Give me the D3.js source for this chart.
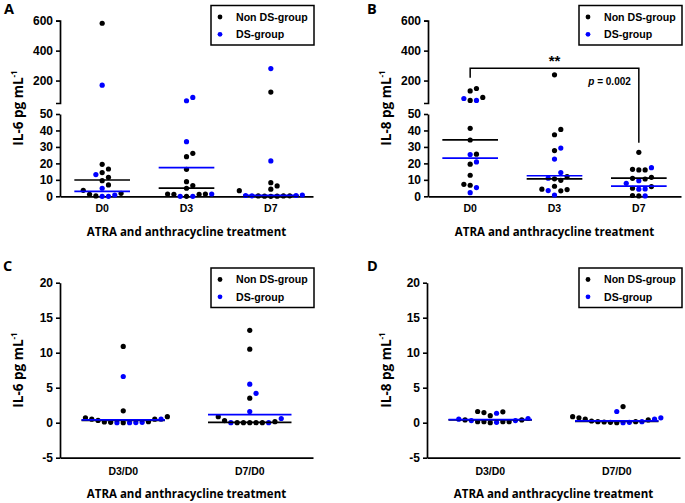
<!DOCTYPE html>
<html><head><meta charset="utf-8">
<script src="https://cdn.jsdelivr.net/npm/d3@7"></script>
<style>body{margin:0;background:#fff} svg{display:block}</style>
</head><body><svg id="c" width="685" height="503"></svg>
<script>
const dayCats = ["D0","D3","D7"];
const ratioCats = ["D3/D0","D7/D0"];
const groups = ["Non DS-group","DS-group"];
const groupColors = ["#000000","#0000ff"];

// Panel A: IL-6 (pg/mL), per category
const il6NonDS = [
  [583,19.4,16.6,14.4,11.5,9.5,6.9,3.6,1.2,0.2,1.8],
  [26.1,24.1,16.4,8.9,6.5,4.9,1.4,1.4,0,1.2,1.2],
  [123,8.3,6.3,4.3,3.4,0.2,0.1,0,0.2,0.3,0.1]
];
const il6DS = [
  [169,13.2,4.9,0,0,0.8],
  [87,65,33.2,0,0,1.4],
  [280,21.5,0.5,0.3,0.5,0.8]
];
const il6NonDSMedian = [9.9,5.0,0.2];
const il6DSMedian = [3.0,17.4,0.6];

// Panel B: IL-8 (pg/mL)
const il8NonDS = [
  [147,131,87,67,41.3,34.2,25.6,19.5,12.8,7.3,6.7],
  [238,40.6,37.4,27.8,12,10.6,9.7,6.1,4.3,3.3,4.1],
  [26.7,16.4,16,16,11.5,10.9,10.5,5.9,4.9,0.5,0.2]
];
const il8DS = [
  [80,67,25.4,20.9,5.3,2.2],
  [29.3,22.6,14.4,11,3.5,0.8],
  [17.4,9.5,7.9,4.5,4.3,0.2]
];
const il8NonDSMedian = [34.3,10.6,11.0];
const il8DSMedian = [23.2,12.5,6.2];

// Panel C: IL-6 ratios
const il6RatioNonDS = [
  [10.9,1.7,0.86,0.5,0.5,0.15,0,0.05,0.1,0.33,0.7],
  [13.2,10.5,3.5,0.86,0.3,0,0,0,0,0,0.14]
];
const il6RatioDS = [
  [6.6,0.05,0,0,0.02,0.5],
  [5.5,4.2,1.6,0,0,0.6]
];
const il6RatioNonDSMedian = [0.33,0.05];
const il6RatioDSMedian = [0.4,1.15];

// Panel D: IL-8 ratios
const il8RatioNonDS = [
  [1.0,0.4,0.15,0.15,0,0.15,0.15,0.4,1.6,1.45,1.55],
  [0.86,0.24,0.15,0.05,0,0.15,0.4,0.5,0.7,2.3,0.1]
];
const il8RatioDS = [
  [0.6,0.3,0.05,0.3,0.5,1.35],
  [0.7,0.5,0,0.05,0.15,1.6]
];
const il8RatioNonDSMedian = [0.4,0.2];
const il8RatioDSMedian = [0.45,0.25];

const brokenUpperTicks = [200,400,600];
const brokenLowerTicks = [0,10,20,30,40,50];
const ratioTicks = [-5,0,5,10,15,20];
const xTitle = "ATRA and anthracycline treatment";
const sigStars = "**";
const pText = "= 0.002";

const svg = d3.select("#c");
const FONT = "'Liberation Sans', Arial, sans-serif";
const TFONT = "'Open Sans', 'Liberation Sans', sans-serif";
const fmt = d => String(d);

function swarm(pts, cx, d) {
  const sorted = pts.slice().sort((a,b) => b.y - a.y || a.g - b.g);
  const placed = [];
  for (const p of sorted) {
    let off = 0;
    for (let i = 0; i < 200; i++) {
      const k = Math.ceil(i/2);
      off = i === 0 ? 0 : (i % 2 === 1 ? k : -k) * d;
      if (placed.every(q => Math.hypot(q.dx - off, q.y - p.y) >= d - 0.01)) break;
    }
    placed.push({...p, dx: off});
  }
  return placed.map(p => ({...p, x: cx + p.dx}));
}

function drawPanel(c) {
  const g = svg.append("g");
  const x = d3.scaleBand().domain(c.cats).range([c.x0, c.x1]);
  let yFn, yBase;
  if (c.broken) {
    const yLow = d3.scaleLinear().domain([0,50]).range([196.3,114]);
    const yUp = d3.scaleLinear().domain([50,600]).range([103,20.7]);
    yFn = v => v <= 50 ? yLow(v) : yUp(v);
    yBase = yLow(0);
    g.append("g").attr("transform",`translate(${c.x0},0)`)
      .call(d3.axisLeft(yLow).tickValues(brokenLowerTicks).tickFormat(fmt).tickSize(4).tickSizeOuter(0).tickPadding(3));
    g.append("g").attr("transform",`translate(${c.x0},0)`)
      .call(d3.axisLeft(yUp).tickValues(brokenUpperTicks).tickFormat(fmt).tickSize(4).tickSizeOuter(4).tickPadding(3));
  } else {
    const y = d3.scaleLinear().domain([-5,20]).range([457.7,282.7]);
    yFn = y;
    yBase = y(-5);
    g.append("g").attr("transform",`translate(${c.x0},0)`)
      .call(d3.axisLeft(y).tickValues(ratioTicks).tickFormat(fmt).tickSize(4).tickSizeOuter(0).tickPadding(3));
  }
  const xa = g.append("g").attr("transform",`translate(0,${yBase})`)
    .call(d3.axisBottom(x).tickSize(0).tickSizeOuter(0).tickPadding(c.broken ? 8 : 10));
  xa.selectAll("text").attr("font-size", 10.5);
  g.selectAll(".domain").attr("stroke","#000").attr("stroke-width",1.7);
  g.selectAll(".tick line").attr("stroke","#000").attr("stroke-width",1.6);
  g.selectAll(".tick text").attr("font-family",FONT).attr("font-weight","bold").attr("fill","#000");
  g.selectAll("g.tick").filter(function(){return this.parentNode !== xa.node();}).selectAll("text").attr("font-size",12);

  // points
  const bw = x.bandwidth();
  c.cats.forEach((cat, i) => {
    const pts = [];
    c.series[0][i].forEach(v => pts.push({v, g:0, y:yFn(v)}));
    c.series[1][i].forEach(v => pts.push({v, g:1, y:yFn(v)}));
    const placed = swarm(pts, x(cat) + bw/2, 6.3);
    g.append("g").selectAll("circle").data(placed).join("circle")
      .attr("cx", d => d.x).attr("cy", d => d.y).attr("r", 2.6)
      .attr("fill", d => groupColors[d.g]);
    // medians
    [0,1].forEach(k => {
      const m = c.medians[k][i];
      g.append("line").attr("x1", x(cat) + bw*0.17).attr("x2", x(cat) + bw*0.83)
        .attr("y1", yFn(m)).attr("y2", yFn(m))
        .attr("stroke", groupColors[k]).attr("stroke-width", 1.7);
    });
  });

  // titles
  g.append("text").attr("x",(c.x0+c.x1)/2).attr("y", yBase + 40).attr("text-anchor","middle")
    .attr("font-family",TFONT).attr("font-weight","bold").attr("font-size",11.5).text(xTitle);
  const yMid = c.broken ? 108 : 370;
  const yt = g.append("text").attr("transform",`translate(${c.ytx},${yMid}) rotate(-90)`)
    .attr("text-anchor","middle").attr("dominant-baseline","central")
    .attr("font-family",TFONT).attr("font-weight","bold").attr("font-size",13.5);
  yt.append("tspan").text(c.ylab + " pg mL");
  yt.append("tspan").attr("dy",-5).attr("font-size",8).text("-1");
  g.append("text").attr("x",c.letterX).attr("y",c.letterY).attr("font-family",TFONT)
    .attr("font-weight","bold").attr("font-size",14.5).text(c.letter);

  // legend
  const lg = g.append("g").attr("transform",`translate(${c.legX},${c.legY})`);
  lg.append("rect").attr("width",103).attr("height",39.5).attr("fill","#fff")
    .attr("stroke","#000").attr("stroke-width",1.5);
  groups.forEach((nm,k) => {
    lg.append("circle").attr("cx",9).attr("cy",11.5 + k*17.3).attr("r",2.4).attr("fill",groupColors[k]);
    lg.append("text").attr("x",25).attr("y",11.5 + k*17.3).attr("dy","0.36em")
      .attr("font-family",FONT).attr("font-weight","bold").attr("font-size",10.6).text(nm);
  });
  c.x = x; c.yFn = yFn;
  return c;
}

const A = drawPanel({cats:dayCats, x0:60, x1:313, broken:true, series:[il6NonDS, il6DS],
  medians:[il6NonDSMedian, il6DSMedian], ylab:"IL-6", ytx:17.5, letter:"A", letterX:4, letterY:14, legX:211, legY:5.5});
const B = drawPanel({cats:dayCats, x0:428, x1:681, broken:true, series:[il8NonDS, il8DS],
  medians:[il8NonDSMedian, il8DSMedian], ylab:"IL-8", ytx:386, letter:"B", letterX:367, letterY:14, legX:579, legY:5.5});
const C = drawPanel({cats:ratioCats, x0:60, x1:313, broken:false, series:[il6RatioNonDS, il6RatioDS],
  medians:[il6RatioNonDSMedian, il6RatioDSMedian], ylab:"IL-6", ytx:17.5, letter:"C", letterX:3, letterY:271, legX:211, legY:268});
const D = drawPanel({cats:ratioCats, x0:427, x1:680, broken:false, series:[il8RatioNonDS, il8RatioDS],
  medians:[il8RatioNonDSMedian, il8RatioDSMedian], ylab:"IL-8", ytx:386, letter:"D", letterX:367, letterY:271, legX:579, legY:268});

// significance bracket in B (D0 vs D7)
const bx = d => B.x(d) + B.x.bandwidth()/2;
const xl = bx("D0"), xr = bx("D7");
const yTop = B.yFn(283), yLeft = B.yFn(218), yRight = B.yFn(32.5);
svg.append("path").attr("d",`M${xl},${yLeft}V${yTop}H${xr}V${yRight}`)
  .attr("fill","none").attr("stroke","#000").attr("stroke-width",1.5);
svg.append("text").attr("x",(xl+xr)/2).attr("y",yTop - 2).attr("text-anchor","middle")
  .attr("font-family",FONT).attr("font-weight","bold").attr("font-size",15).text(sigStars);
const pt = svg.append("text").attr("x",xr - 8).attr("y",yTop + 17).attr("text-anchor","end")
  .attr("font-family",FONT).attr("font-weight","bold").attr("font-size",10);
pt.append("tspan").attr("font-style","italic").text("p");
pt.append("tspan").text(" " + pText);
</script></body></html>
